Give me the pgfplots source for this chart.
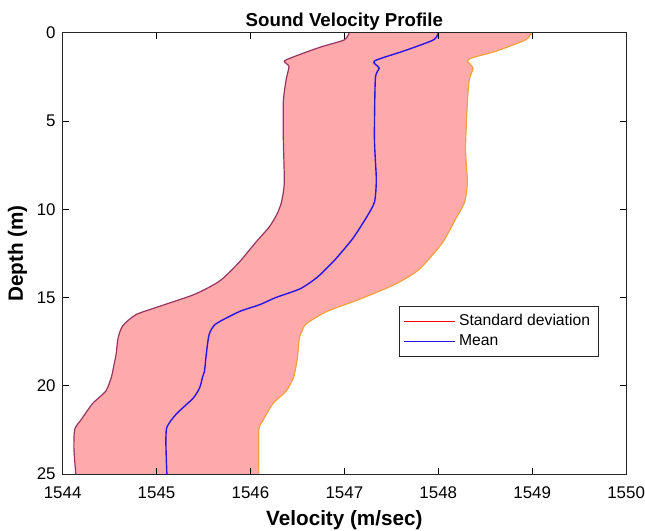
\documentclass[border=0pt]{standalone}
\usepackage{pgfplots}
\pgfplotsset{compat=1.18}
\usepgfplotslibrary{fillbetween}
\usepackage{fontspec}
\setmainfont{Liberation Sans}
\definecolor{sdfill}{RGB}{255,170,170}
\definecolor{lowedge}{RGB}{150,50,100}
\definecolor{upedge}{RGB}{240,160,60}
\definecolor{meanblue}{RGB}{40,20,230}
\begin{document}
\begin{tikzpicture}
\begin{axis}[
  scale only axis, width=283.5pt, height=222pt,
  xmin=1544, xmax=1550, ymin=0, ymax=25, y dir=reverse,
  xtick={1544,1545,1546,1547,1548,1549,1550}, ytick={0,5,10,15,20,25},
  /pgf/number format/assume math mode=true,
  /pgf/number format/1000 sep={},
  tick label style={font=\fontsize{8.5}{10}\selectfont},
  xticklabel style={anchor=base, yshift=-12.5pt},
  major tick length=3pt,
  tick style={black, line width=0.5pt},
  axis line style={line width=0.5pt, black!85},
  axis on top, set layers,
  title={Sound Velocity Profile},
  title style={font=\fontsize{9.4}{11}\selectfont\bfseries, at={(0.5,1)}, anchor=base, yshift=-2.6pt},
  xlabel={Velocity (m/sec)},
  xlabel style={font=\fontsize{10.4}{12}\selectfont\bfseries, at={(axis description cs:0.5,0)}, anchor=base, yshift=-26pt},
  ylabel={Depth (m)},
  ylabel style={font=\fontsize{10.4}{12}\selectfont\bfseries, at={(axis description cs:0,0.5)}, anchor=base, rotate=0, yshift=20pt},
  legend style={at={(0.951,0.381)}, anchor=north east, font=\fontsize{7.9}{9}\selectfont, draw=black!85, line width=0.5pt, row sep=-1pt, inner sep=2pt},
  legend image code/.code={\draw[#1] (0cm,0cm) -- (0.9cm,0cm);},
  legend cell align=left,
]
\addplot[name path=lower, draw=lowedge, line width=0.6pt, smooth, tension=0.4, forget plot] table {
x y
1547.05 0
1547.00 0.4
1546.75 0.8
1546.52 1.24
1546.36 1.6
1546.41 1.9
1546.38 2.65
1546.35 3.9
1546.35 6.0
1546.36 8.5
1546.33 9.6
1546.28 10.3
1546.20 11.0
1546.06 11.85
1545.88 13.0
1545.71 13.9
1545.60 14.3
1545.39 14.85
1545.03 15.5
1544.78 15.97
1544.64 16.6
1544.59 17.3
1544.57 18.2
1544.54 19.0
1544.52 19.5
1544.46 20.3
1544.32 21.0
1544.20 21.9
1544.13 22.45
1544.12 23.5
1544.14 25
};
\addplot[name path=upper, draw=upedge, line width=0.6pt, smooth, tension=0.4, forget plot] table {
x y
1548.99 0
1548.93 0.4
1548.61 1.05
1548.37 1.4
1548.31 1.6
1548.37 2.0
1548.33 2.65
1548.31 3.9
1548.29 6.6
1548.31 8.46
1548.28 9.6
1548.19 10.5
1548.05 11.85
1547.87 13.0
1547.75 13.6
1547.52 14.3
1547.16 15.1
1546.81 15.8
1546.59 16.5
1546.55 16.9
1546.52 17.3
1546.50 18.4
1546.46 19.5
1546.38 20.3
1546.24 21.0
1546.13 22.0
1546.09 22.5
1546.09 25
};
\addplot[fill=sdfill, draw=none, on layer=pre main, forget plot] fill between[of=lower and upper];
\addplot[draw=meanblue, line width=0.7pt, smooth, tension=0.4, forget plot] table {
x y
1548.00 0
1547.95 0.4
1547.65 1.0
1547.32 1.6
1547.37 2.0
1547.33 2.6
1547.32 6.0
1547.34 8.3
1547.32 9.6
1547.23 10.5
1547.09 11.65
1546.91 12.8
1546.81 13.35
1546.70 13.9
1546.53 14.5
1546.27 15.0
1546.10 15.4
1545.88 15.8
1545.63 16.5
1545.56 17.1
1545.53 18.2
1545.51 19.2
1545.49 19.5
1545.46 20.1
1545.39 20.7
1545.21 21.6
1545.11 22.35
1545.10 23.3
1545.11 25
};
\addlegendimage{red, line width=0.6pt}
\addlegendentry{Standard deviation}
\addlegendimage{meanblue, line width=0.6pt}
\addlegendentry{Mean}
\end{axis}
\pgfresetboundingbox
\path ([shift={(-31.5pt,-28.5pt)}]current axis.south west) rectangle ([shift={(9.5pt,16.5pt)}]current axis.north east);
\end{tikzpicture}
\end{document}
